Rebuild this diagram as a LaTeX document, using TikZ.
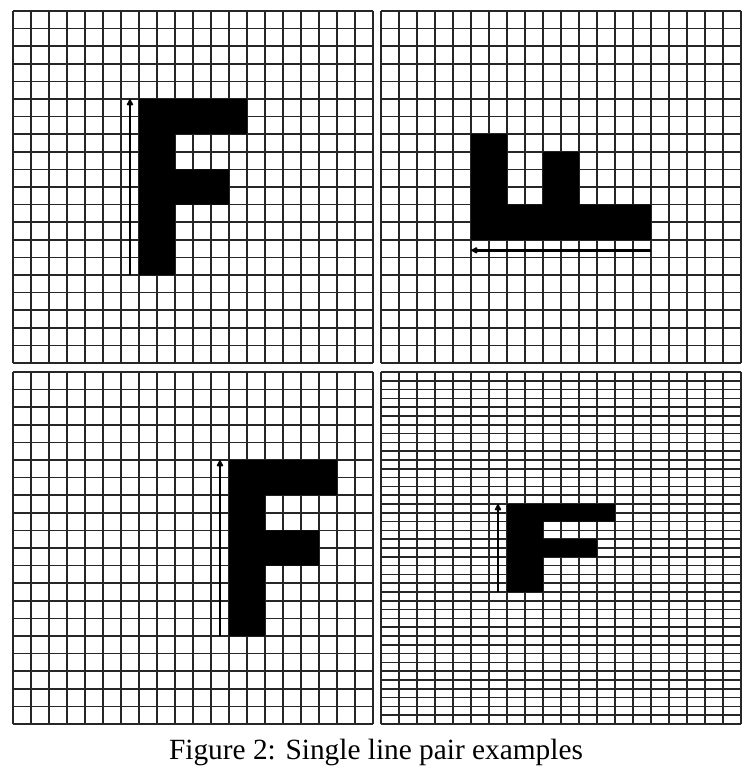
\documentclass[tikz,border=0pt]{standalone}
\usepackage{fontspec}
\setmainfont{Liberation Serif}
\usetikzlibrary{arrows.meta}
\tikzset{
  gridline/.style={black!85, line width=1.1pt},
  letter/.style={fill=black},
  pairline/.style={line width=2pt, -{Latex[length=6pt,width=6pt,round]}}
}
\begin{document}
\begin{tikzpicture}[x=0.75pt, y=-0.75pt]
\useasboundingbox (0,0) rectangle (752,777);
\begin{scope}[shift={(13,11)}, xscale=18, yscale=17.6]
\foreach \x in {0,...,20}\draw[gridline] (\x,0) -- (\x,20);
\foreach \y in {0,...,20}\draw[gridline] (0,\y) -- (20,\y);
\fill[letter] (7,5) -- (13,5) -- (13,7) -- (9,7) -- (9,9) -- (12,9) -- (12,11) -- (9,11) -- (9,15) -- (7,15) -- cycle;
\coordinate (TLtail) at (6.5,15); \coordinate (TLhead) at (6.5,5); \draw[pairline] (TLtail) -- (TLhead);
\end{scope}
\begin{scope}[shift={(381,11)}, xscale=18, yscale=17.6]
\foreach \x in {0,...,20}\draw[gridline] (\x,0) -- (\x,20);
\foreach \y in {0,...,20}\draw[gridline] (0,\y) -- (20,\y);
\fill[letter] (5,7) -- (7,7) -- (7,11) -- (9,11) -- (9,8) -- (11,8) -- (11,11) -- (15,11) -- (15,13) -- (5,13) -- cycle;
\coordinate (TRtail) at (15,13.6); \coordinate (TRhead) at (5,13.6); \draw[pairline] (TRtail) -- (TRhead);
\end{scope}
\begin{scope}[shift={(13,372)}, xscale=18, yscale=17.6]
\foreach \x in {0,...,20}\draw[gridline] (\x,0) -- (\x,20);
\foreach \y in {0,...,20}\draw[gridline] (0,\y) -- (20,\y);
\fill[letter] (12,5) -- (18,5) -- (18,7) -- (14,7) -- (14,9) -- (17,9) -- (17,11) -- (14,11) -- (14,15) -- (12,15) -- cycle;
\coordinate (BLtail) at (11.5,15); \coordinate (BLhead) at (11.5,5); \draw[pairline] (BLtail) -- (BLhead);
\end{scope}
\begin{scope}[shift={(381,372)}, xscale=18, yscale=8.8]
\foreach \x in {0,...,20}\draw[gridline] (\x,0) -- (\x,40);
\foreach \y in {0,...,40}\draw[gridline] (0,\y) -- (20,\y);
\fill[letter] (7,15) -- (13,15) -- (13,17) -- (9,17) -- (9,19) -- (12,19) -- (12,21) -- (9,21) -- (9,25) -- (7,25) -- cycle;
\coordinate (BRtail) at (6.5,25); \coordinate (BRhead) at (6.5,15); \draw[pairline] (BRtail) -- (BRhead);
\end{scope}
\node (Caption) at (376,752) {\fontsize{22}{26}\selectfont Figure 2: Single line pair examples};
\end{tikzpicture}
\end{document}
